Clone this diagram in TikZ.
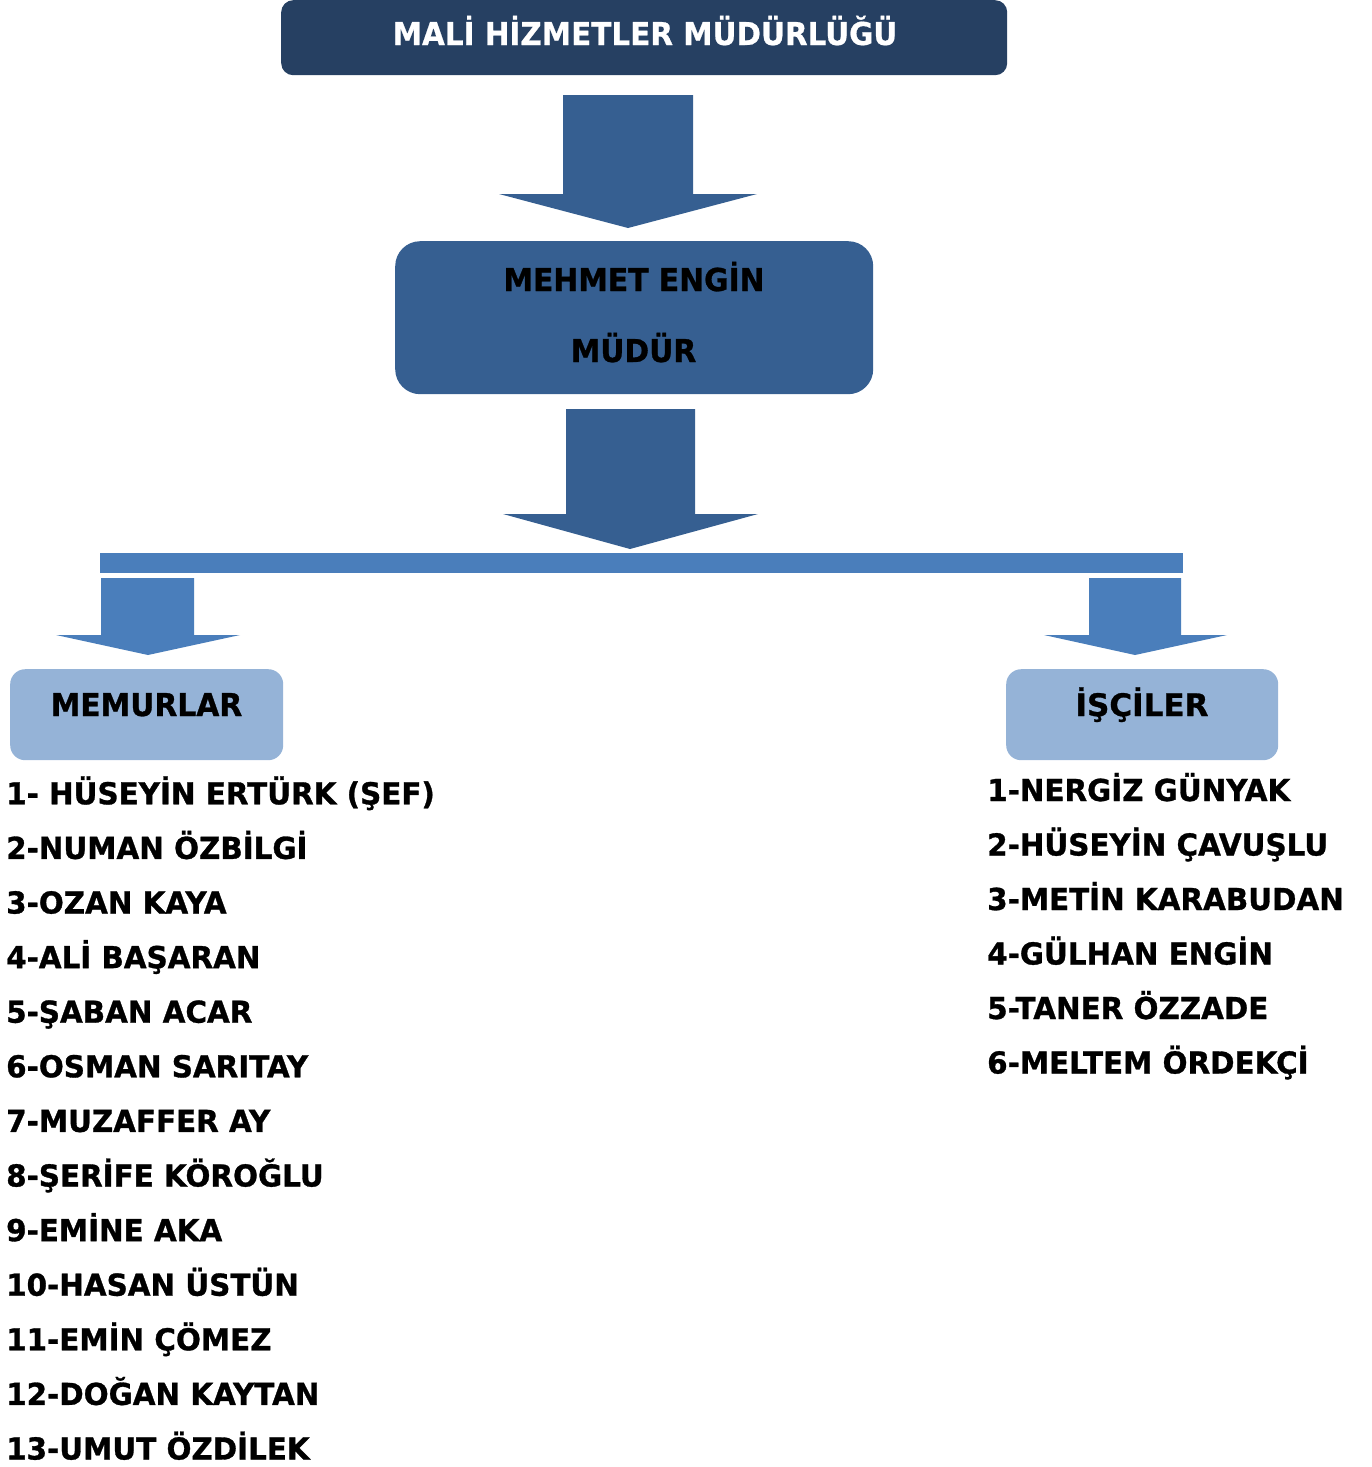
\documentclass[tikz,border=0pt]{standalone}
\usepackage{fontspec}
\setmainfont{DejaVu Sans}[FakeBold=0.9]
\newfontfamily\titlefont{DejaVu Sans Condensed}[FakeStretch=1.04, FakeBold=0.6]
\newfontfamily\narrowfont{DejaVu Sans}[FakeStretch=0.945, FakeBold=0.9]
\newfontfamily\itemfont{DejaVu Sans}[FakeStretch=0.973, FakeBold=1.0]
\definecolor{navy}{RGB}{38,64,98}
\definecolor{midblue}{RGB}{54,95,145}
\definecolor{barblue}{RGB}{74,126,187}
\definecolor{lightblue}{RGB}{149,179,215}
\tikzset{
  box/.style={draw=none, rounded corners=#1, inner sep=0pt, anchor=north west},
  lbl/.style={anchor=base, inner sep=0pt, font=\bfseries\fontsize{31}{31}\selectfont},
  nlbl/.style={anchor=base, inner sep=0pt, font=\narrowfont\bfseries\fontsize{31.5}{31.5}\selectfont},
  item/.style={anchor=base west, inner sep=0pt, font=\itemfont\bfseries\fontsize{30.2}{30.2}\selectfont},
}
\begin{document}
\begin{tikzpicture}[x=1pt,y=-1pt]
\useasboundingbox (0,0) rectangle (1372,1467);
% boxes
\node[box=12pt, fill=navy, minimum width=726pt, minimum height=75pt] (title) at (281,0) {};
\node[box=25pt, fill=midblue, minimum width=478pt, minimum height=153pt] (mudur) at (395,241) {};
\node[box=15pt, fill=lightblue, minimum width=273pt, minimum height=91pt] (memur) at (10,669) {};
\node[box=15pt, fill=lightblue, minimum width=272pt, minimum height=91pt] (isci) at (1006,669) {};
% texts
\node[lbl, text=white, font=\titlefont\bfseries\fontsize{31.5}{31.5}\selectfont] (titletext) at (645,45) {MALİ HİZMETLER MÜDÜRLÜĞÜ};
\node[nlbl] (name) at (634,291) {MEHMET ENGİN};
\node[nlbl] (rank) at (633.5,362) {MÜDÜR};
\node[nlbl] (memurtext) at (146.5,716) {MEMURLAR};
\node[lbl] (iscitext) at (1142,716) {İŞÇİLER};
% block arrows
\fill[midblue] (563,95) -- (693,95) -- (693,194) -- (757,194) -- (628,228) -- (499,194) -- (563,194) -- cycle;
\fill[midblue] (566,409) -- (695,409) -- (695,514) -- (758,514) -- (630,549) -- (503,514) -- (566,514) -- cycle;
\fill[barblue] (100,553) rectangle (1183,573);
\fill[barblue] (101,578) -- (194,578) -- (194,635) -- (240,635) -- (148,655) -- (56,635) -- (101,635) -- cycle;
\fill[barblue] (1089,578) -- (1181,578) -- (1181,635) -- (1227,635) -- (1135,655) -- (1044,635) -- (1089,635) -- cycle;
% left list
\foreach \t [count=\i from 0] in {1- HÜSEYİN ERTÜRK (ŞEF),2-NUMAN ÖZBİLGİ,3-OZAN KAYA,4-ALİ BAŞARAN,5-ŞABAN ACAR,6-OSMAN SARITAY,7-MUZAFFER AY,8-ŞERİFE KÖROĞLU,9-EMİNE AKA,10-HASAN ÜSTÜN,11-EMİN ÇÖMEZ,12-DOĞAN KAYTAN,13-UMUT ÖZDİLEK}
  \node[item] (m\i) at (6,804.3+\i*54.6) {\t};
% right list
\foreach \t [count=\i from 0] in {1-NERGİZ GÜNYAK,2-HÜSEYİN ÇAVUŞLU,3-METİN KARABUDAN,4-GÜLHAN ENGİN,5-TANER ÖZZADE,6-MELTEM ÖRDEKÇİ}
  \node[item] (w\i) at (987,801+\i*54.5) {\t};
\end{tikzpicture}
\end{document}
